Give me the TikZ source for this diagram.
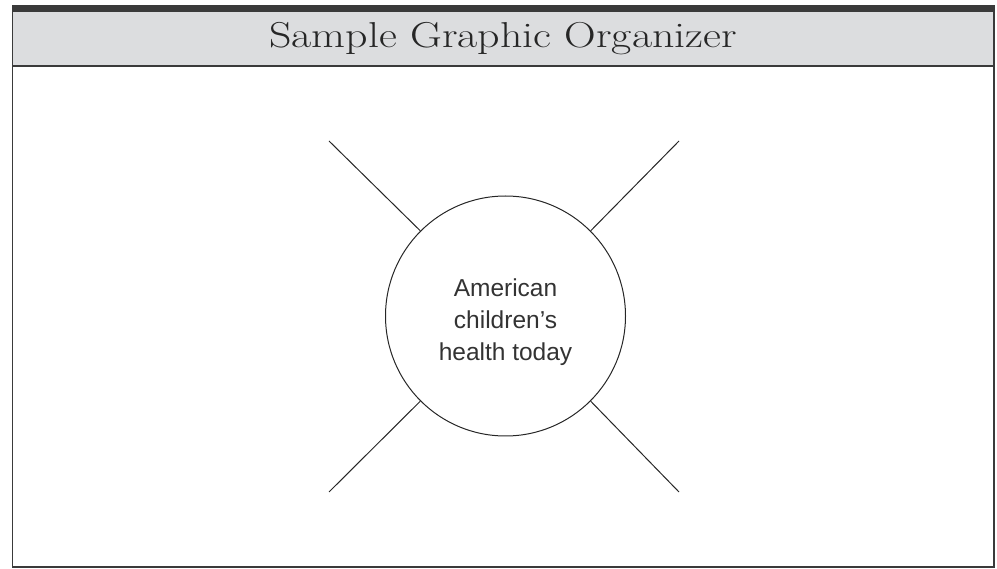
\documentclass[tikz,border=0pt]{standalone}
\usepackage{fontspec}
\newfontfamily\handfont{Liberation Sans}
\newfontfamily\titlefont[FakeStretch=1.22]{Latin Modern Roman}
\definecolor{bandgray}{HTML}{DCDDDF}
\definecolor{framegray}{HTML}{3A3A3A}
\definecolor{textgray}{HTML}{333333}
\begin{document}
\begin{tikzpicture}[x=1pt,y=-1pt,
  frame/.style={draw=framegray,line width=1.3pt},
  spoke/.style={draw=black!85,line width=1pt},
  hub/.style={circle,draw=black!85,line width=1pt,minimum size=240pt,inner sep=0pt},
  hubtext/.style={align=center,font=\handfont\fontsize{24.5}{32}\selectfont,text=textgray},
  title/.style={font=\titlefont\fontsize{36}{40}\selectfont,text=black!85}]
\useasboundingbox (0,0) rectangle (997,569);
% outer frame and header
\fill[framegray] (12,5) rectangle (995,11);
\filldraw[fill=bandgray,frame] (12.5,11) rectangle (994,66);
\draw[frame] (12.5,66) rectangle (994,567);
\node[title] (t) at (503,39) {Sample Graphic Organizer};
% hub
\node[hub] (c) at (505.5,316) {};
\node[hubtext] (ct) at (505.5,322) {American\\children’s\\health today};
\coordinate (tl) at (329,141);
\coordinate (tr) at (679,141);
\coordinate (bl) at (329,492);
\coordinate (br) at (679,492);
\draw[spoke] (c.135) -- (tl);
\draw[spoke] (c.45) -- (tr);
\draw[spoke] (c.225) -- (bl);
\draw[spoke] (c.315) -- (br);
\end{tikzpicture}
\end{document}
